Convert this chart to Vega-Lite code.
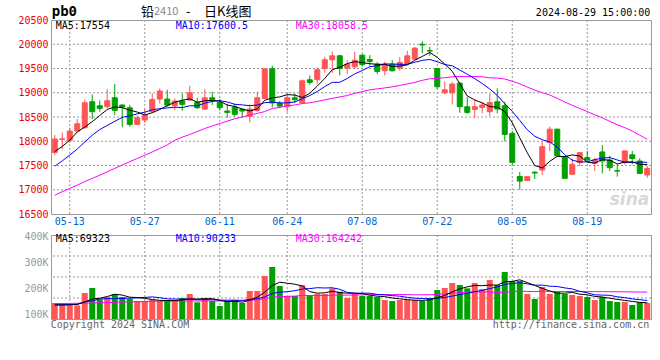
{
  "$schema": "https://vega.github.io/schema/vega-lite/v6.json",
  "padding": {"left": 17, "top": 4, "right": 5, "bottom": 5},
  "background": "#ffffff",
  "spacing": 21,
  "bounds": "flush",
  "config": {"view": {"stroke": "#999999", "strokeWidth": 1}, "font": "DejaVu Sans Mono", "text": {"font": "DejaVu Sans Mono", "fontSize": 10}},
  "resolve": {"scale": {"x": "independent", "y": "independent"}},
  "datasets": {
    "k": [
      {"d":"05-09","o":17770,"h":18133,"l":17717,"c":18046,"m5":17788,"m10":17486,"m30":16887,"v":143580,"vm5":135820,"vm10":135820,"vm30":140990},
      {"d":"05-10","o":18040,"h":18180,"l":17840,"c":18050,"m5":17894,"m10":17595,"m30":16960,"v":143580,"vm5":135820,"vm10":137110,"vm30":141510},
      {"d":"05-13","o":18017,"h":18280,"l":17964,"c":18211,"m5":18022,"m10":17714,"m30":17029,"v":134530,"vm5":135820,"vm10":137760,"vm30":142030},
      {"d":"05-14","o":18211,"h":18458,"l":18200,"c":18361,"m5":18192,"m10":17838,"m30":17095,"v":134530,"vm5":138410,"vm10":138410,"vm30":142540},
      {"d":"05-15","o":18279,"h":18856,"l":18260,"c":18794,"m5":18292,"m10":17985,"m30":17170,"v":182380,"vm5":147720,"vm10":147470,"vm30":143060},
      {"d":"05-16","o":18815,"h":18965,"l":18458,"c":18609,"m5":18405,"m10":18125,"m30":17235,"v":201780,"vm5":159360,"vm10":152640,"vm30":143580},
      {"d":"05-17","o":18732,"h":18842,"l":18609,"c":18677,"m5":18530,"m10":18241,"m30":17300,"v":157810,"vm5":162200,"vm10":159110,"vm30":144610},
      {"d":"05-20","o":18712,"h":19076,"l":18677,"c":18835,"m5":18655,"m10":18327,"m30":17370,"v":166860,"vm5":168670,"vm10":160400,"vm30":145390},
      {"d":"05-21","o":18897,"h":19185,"l":18540,"c":18636,"m5":18710,"m10":18411,"m30":17440,"v":178500,"vm5":177470,"vm10":160400,"vm30":146170},
      {"d":"05-22","o":18747,"h":18760,"l":18290,"c":18706,"m5":18693,"m10":18493,"m30":17510,"v":166860,"vm5":174360,"vm10":161050,"vm30":147070},
      {"d":"05-23","o":18691,"h":18750,"l":18300,"c":18347,"m5":18640,"m10":18523,"m30":17578,"v":160390,"vm5":166080,"vm10":162730,"vm30":147980},
      {"d":"05-24","o":18347,"h":18530,"l":18330,"c":18485,"m5":18602,"m10":18566,"m30":17645,"v":151340,"vm5":164790,"vm10":163510,"vm30":148750},
      {"d":"05-27","o":18438,"h":18664,"l":18380,"c":18541,"m5":18543,"m10":18599,"m30":17712,"v":151340,"vm5":161690,"vm10":165190,"vm30":149530},
      {"d":"05-28","o":18609,"h":18986,"l":18595,"c":18862,"m5":18588,"m10":18649,"m30":17780,"v":155220,"vm5":157030,"vm10":167260,"vm30":150310},
      {"d":"05-29","o":18870,"h":19090,"l":18780,"c":19035,"m5":18654,"m10":18673,"m30":17850,"v":151340,"vm5":153930,"vm10":164160,"vm30":150950},
      {"d":"05-30","o":18870,"h":19060,"l":18710,"c":18746,"m5":18734,"m10":18687,"m30":17925,"v":155220,"vm5":152890,"vm10":159500,"vm30":151340},
      {"d":"05-31","o":18732,"h":18883,"l":18643,"c":18829,"m5":18803,"m10":18702,"m30":18020,"v":151340,"vm5":152890,"vm10":158860,"vm30":151340},
      {"d":"06-03","o":18829,"h":18980,"l":18630,"c":18760,"m5":18846,"m10":18695,"m30":18085,"v":162980,"vm5":155220,"vm10":158470,"vm30":151340},
      {"d":"06-04","o":18849,"h":19144,"l":18830,"c":19000,"m5":18874,"m10":18731,"m30":18140,"v":178500,"vm5":159880,"vm10":158470,"vm30":151340},
      {"d":"06-05","o":18800,"h":18897,"l":18664,"c":18691,"m5":18805,"m10":18730,"m30":18200,"v":146170,"vm5":158840,"vm10":156400,"vm30":151340},
      {"d":"06-06","o":18664,"h":19076,"l":18650,"c":18897,"m5":18835,"m10":18785,"m30":18263,"v":162980,"vm5":160390,"vm10":156660,"vm30":151340},
      {"d":"06-07","o":18897,"h":19020,"l":18747,"c":18856,"m5":18841,"m10":18822,"m30":18314,"v":151340,"vm5":160390,"vm10":156660,"vm30":151340},
      {"d":"06-11","o":18800,"h":18870,"l":18636,"c":18691,"m5":18827,"m10":18837,"m30":18365,"v":131940,"vm5":154190,"vm10":154720,"vm30":151340},
      {"d":"06-12","o":18623,"h":18773,"l":18485,"c":18595,"m5":18746,"m10":18810,"m30":18415,"v":151340,"vm5":148750,"vm10":154330,"vm30":151340},
      {"d":"06-13","o":18706,"h":18773,"l":18506,"c":18554,"m5":18719,"m10":18762,"m30":18463,"v":155220,"vm5":150560,"vm10":154720,"vm30":151340},
      {"d":"06-14","o":18657,"h":18680,"l":18485,"c":18623,"m5":18664,"m10":18750,"m30":18501,"v":143580,"vm5":146680,"vm10":153560,"vm30":152630},
      {"d":"06-17","o":18513,"h":18760,"l":18390,"c":18664,"m5":18625,"m10":18733,"m30":18539,"v":190140,"vm5":154440,"vm10":157440,"vm30":153930},
      {"d":"06-18","o":18636,"h":19020,"l":18609,"c":18897,"m5":18667,"m10":18747,"m30":18575,"v":190140,"vm5":166080,"vm10":160150,"vm30":156510},
      {"d":"06-19","o":18883,"h":19500,"l":18870,"c":19494,"m5":18846,"m10":18796,"m30":18612,"v":248340,"vm5":185480,"vm10":167130,"vm30":160390},
      {"d":"06-20","o":19494,"h":19556,"l":18700,"c":18790,"m5":18894,"m10":18806,"m30":18676,"v":283260,"vm5":211090,"vm10":180840,"vm30":166080},
      {"d":"06-21","o":18786,"h":18830,"l":18680,"c":18725,"m5":18914,"m10":18789,"m30":18699,"v":209540,"vm5":224280,"vm10":185490,"vm30":168280},
      {"d":"06-24","o":18712,"h":18986,"l":18609,"c":18897,"m5":18961,"m10":18793,"m30":18727,"v":170740,"vm5":220400,"vm10":187430,"vm30":169190},
      {"d":"06-25","o":18897,"h":18986,"l":18786,"c":18856,"m5":18952,"m10":18810,"m30":18748,"v":170740,"vm5":216520,"vm10":191310,"vm30":170350},
      {"d":"06-26","o":18794,"h":19274,"l":18786,"c":19247,"m5":18903,"m10":18875,"m30":18778,"v":213420,"vm5":209540,"vm10":197520,"vm30":173070},
      {"d":"06-27","o":19268,"h":19357,"l":19165,"c":19213,"m5":18988,"m10":18941,"m30":18792,"v":174620,"vm5":187810,"vm10":199460,"vm30":172810},
      {"d":"06-28","o":19268,"h":19521,"l":19179,"c":19474,"m5":19137,"m10":19026,"m30":18821,"v":178500,"vm5":181600,"vm10":202950,"vm30":172030},
      {"d":"07-01","o":19501,"h":19742,"l":19412,"c":19680,"m5":19294,"m10":19127,"m30":18854,"v":178500,"vm5":183160,"vm10":201780,"vm30":172680},
      {"d":"07-02","o":19680,"h":19851,"l":19412,"c":19762,"m5":19475,"m10":19214,"m30":18885,"v":200490,"vm5":189110,"vm10":202820,"vm30":173850},
      {"d":"07-03","o":19762,"h":19783,"l":19357,"c":19501,"m5":19526,"m10":19215,"m30":18914,"v":187550,"vm5":183930,"vm10":196740,"vm30":174100},
      {"d":"07-04","o":19507,"h":19673,"l":19384,"c":19590,"m5":19601,"m10":19295,"m30":18943,"v":162980,"vm5":181600,"vm10":184710,"vm30":173980},
      {"d":"07-05","o":19535,"h":19851,"l":19500,"c":19673,"m5":19641,"m10":19389,"m30":18988,"v":178500,"vm5":181600,"vm10":181600,"vm30":174620},
      {"d":"07-08","o":19776,"h":19790,"l":19535,"c":19584,"m5":19622,"m10":19458,"m30":19024,"v":170740,"vm5":180050,"vm10":181600,"vm30":175270},
      {"d":"07-09","o":19687,"h":19776,"l":19556,"c":19646,"m5":19599,"m10":19537,"m30":19061,"v":170740,"vm5":174100,"vm10":181600,"vm30":175920},
      {"d":"07-10","o":19590,"h":19632,"l":19384,"c":19439,"m5":19586,"m10":19556,"m30":19080,"v":166860,"vm5":169960,"vm10":176950,"vm30":176300},
      {"d":"07-11","o":19453,"h":19640,"l":19357,"c":19590,"m5":19586,"m10":19594,"m30":19099,"v":155220,"vm5":168410,"vm10":175010,"vm30":176430},
      {"d":"07-12","o":19590,"h":19673,"l":19440,"c":19453,"m5":19542,"m10":19592,"m30":19122,"v":151340,"vm5":162980,"vm10":172290,"vm30":176300},
      {"d":"07-15","o":19508,"h":19735,"l":19453,"c":19625,"m5":19551,"m10":19586,"m30":19149,"v":155220,"vm5":159880,"vm10":169960,"vm30":176430},
      {"d":"07-16","o":19604,"h":19865,"l":19590,"c":19762,"m5":19574,"m10":19586,"m30":19182,"v":155220,"vm5":156770,"vm10":165440,"vm30":176170},
      {"d":"07-17","o":19694,"h":19948,"l":19673,"c":19920,"m5":19670,"m10":19628,"m30":19213,"v":155220,"vm5":154440,"vm10":162200,"vm30":175400},
      {"d":"07-18","o":20000,"h":20060,"l":19810,"c":19985,"m5":19749,"m10":19668,"m30":19256,"v":151340,"vm5":153670,"vm10":161050,"vm30":175530},
      {"d":"07-19","o":19870,"h":19948,"l":19762,"c":19860,"m5":19830,"m10":19686,"m30":19288,"v":162980,"vm5":156000,"vm10":159500,"vm30":175530},
      {"d":"07-22","o":19501,"h":19510,"l":19076,"c":19124,"m5":19730,"m10":19640,"m30":19297,"v":194020,"vm5":163760,"vm10":161820,"vm30":176950},
      {"d":"07-23","o":19000,"h":19240,"l":18965,"c":19062,"m5":19590,"m10":19582,"m30":19310,"v":201780,"vm5":173070,"vm10":164930,"vm30":179280},
      {"d":"07-24","o":19000,"h":19220,"l":18760,"c":19179,"m5":19442,"m10":19556,"m30":19329,"v":221180,"vm5":186260,"vm10":170350,"vm30":181600},
      {"d":"07-25","o":19199,"h":19220,"l":18588,"c":18712,"m5":19187,"m10":19468,"m30":19334,"v":213420,"vm5":198680,"vm10":176170,"vm30":183540},
      {"d":"07-26","o":18712,"h":18911,"l":18568,"c":18595,"m5":18934,"m10":19382,"m30":19333,"v":200490,"vm5":206180,"vm10":181100,"vm30":185480},
      {"d":"07-29","o":18657,"h":18856,"l":18472,"c":18712,"m5":18852,"m10":19291,"m30":19335,"v":221180,"vm5":211610,"vm10":187690,"vm30":186520},
      {"d":"07-30","o":18698,"h":18815,"l":18575,"c":18747,"m5":18789,"m10":19190,"m30":19330,"v":197900,"vm5":210830,"vm10":191960,"vm30":186780},
      {"d":"07-31","o":18609,"h":18979,"l":18520,"c":18800,"m5":18713,"m10":19078,"m30":19307,"v":232820,"vm5":213160,"vm10":199720,"vm30":186260},
      {"d":"08-01","o":18815,"h":19090,"l":18575,"c":18664,"m5":18704,"m10":18946,"m30":19303,"v":213420,"vm5":213160,"vm10":205930,"vm30":183930},
      {"d":"08-02","o":18732,"h":18815,"l":18000,"c":18141,"m5":18613,"m10":18774,"m30":19283,"v":263860,"vm5":225840,"vm10":216010,"vm30":185740},
      {"d":"08-05","o":18162,"h":18211,"l":17515,"c":17564,"m5":18383,"m10":18618,"m30":19239,"v":228940,"vm5":227390,"vm10":219510,"vm30":187690},
      {"d":"08-06","o":17275,"h":17370,"l":17000,"c":17178,"m5":18069,"m10":18429,"m30":19183,"v":228940,"vm5":233600,"vm10":222220,"vm30":189630},
      {"d":"08-07","o":17190,"h":17280,"l":17180,"c":17270,"m5":17763,"m10":18238,"m30":19117,"v":178500,"vm5":222730,"vm10":217950,"vm30":188460},
      {"d":"08-08","o":17360,"h":17385,"l":17222,"c":17345,"m5":17500,"m10":18102,"m30":19055,"v":159100,"vm5":211870,"vm10":212520,"vm30":187950},
      {"d":"08-09","o":17407,"h":18000,"l":17304,"c":17887,"m5":17449,"m10":18031,"m30":19002,"v":205660,"vm5":200230,"vm10":213040,"vm30":188860},
      {"d":"08-12","o":17973,"h":18300,"l":17800,"c":18249,"m5":17586,"m10":17985,"m30":18954,"v":178500,"vm5":190140,"vm10":208770,"vm30":188860},
      {"d":"08-13","o":18249,"h":18260,"l":17680,"c":17699,"m5":17690,"m10":17880,"m30":18885,"v":186260,"vm5":181600,"vm10":207610,"vm30":188350},
      {"d":"08-14","o":17684,"h":17700,"l":17222,"c":17237,"m5":17683,"m10":17723,"m30":18810,"v":178500,"vm5":181600,"vm10":202180,"vm30":188090},
      {"d":"08-15","o":17319,"h":17648,"l":17310,"c":17525,"m5":17719,"m10":17610,"m30":18741,"v":174620,"vm5":184710,"vm10":198300,"vm30":188460},
      {"d":"08-16","o":17559,"h":17779,"l":17490,"c":17765,"m5":17695,"m10":17572,"m30":18677,"v":170740,"vm5":177720,"vm10":188990,"vm30":188210},
      {"d":"08-19","o":17662,"h":17800,"l":17593,"c":17614,"m5":17568,"m10":17577,"m30":18612,"v":166860,"vm5":175400,"vm10":182780,"vm30":188090},
      {"d":"08-20","o":17545,"h":17662,"l":17387,"c":17614,"m5":17551,"m10":17621,"m30":18544,"v":155220,"vm5":169190,"vm10":175400,"vm30":187550},
      {"d":"08-21","o":17779,"h":17917,"l":17338,"c":17593,"m5":17622,"m10":17653,"m30":18482,"v":166860,"vm5":166860,"vm10":174230,"vm30":187550},
      {"d":"08-22","o":17614,"h":17700,"l":17387,"c":17455,"m5":17608,"m10":17664,"m30":18411,"v":151340,"vm5":162200,"vm10":173460,"vm30":187420},
      {"d":"08-23","o":17395,"h":17524,"l":17270,"c":17385,"m5":17532,"m10":17614,"m30":18342,"v":147460,"vm5":157550,"vm10":167640,"vm30":187300},
      {"d":"08-26","o":17559,"h":17810,"l":17524,"c":17800,"m5":17569,"m10":17569,"m30":18281,"v":147460,"vm5":153670,"vm10":164530,"vm30":187040},
      {"d":"08-27","o":17720,"h":17800,"l":17524,"c":17644,"m5":17575,"m10":17563,"m30":18211,"v":135820,"vm5":149790,"vm10":159500,"vm30":186390},
      {"d":"08-28","o":17592,"h":17650,"l":17330,"c":17337,"m5":17524,"m10":17573,"m30":18125,"v":147460,"vm5":145910,"vm10":156400,"vm30":186130},
      {"d":"08-29","o":17304,"h":17490,"l":17249,"c":17441,"m5":17521,"m10":17565,"m30":18040,"v":143580,"vm5":144360,"vm10":153290,"vm30":185870}
    ],
    "gridDates": [{"d":"05-13"},{"d":"05-27"},{"d":"06-11"},{"d":"06-24"},{"d":"07-08"},{"d":"07-22"},{"d":"08-05"},{"d":"08-19"}],
    "gridPrice": [{"g":17000},{"g":17500},{"g":18000},{"g":18500},{"g":19000},{"g":19500},{"g":20000}],
    "gridVol": [{"g":162980},{"g":244460},{"g":325940}]
  },
  "vconcat": [
    {
      "width": 600,
      "height": 194,
      "layer": [
        {
          "data": {"name": "gridPrice"},
          "mark": {"type": "rule", "color": "#999999", "strokeWidth": 1, "strokeDash": [2, 2], "opacity": 1},
          "encoding": {
            "y": {"field": "g", "type": "quantitative", "scale": {"domain": [16500, 20500], "nice": false, "zero": false},
              "axis": {"values": [16500,17000,17500,18000,18500,19000,19500,20000,20500], "tickCount": 20, "format": "d", "labelOverlap": false, "labelColor": "#ee0000", "labelFont": "DejaVu Sans Mono", "labelFontSize": 10, "labelPadding": 3, "ticks": false, "domain": false, "grid": false, "title": null}}
          }
        },
        {
          "data": {"name": "gridDates"},
          "mark": {"type": "rule", "color": "#999999", "strokeWidth": 1, "strokeDash": [2, 2], "opacity": 1},
          "encoding": {
            "x": {"field": "d", "type": "ordinal", "scale": {"paddingInner": 0, "paddingOuter": 0},
              "axis": {"values": ["05-13","05-27","06-11","06-24","07-08","07-22","08-05","08-19"], "labelAngle": 0, "labelColor": "#0066cc", "labelFont": "DejaVu Sans Mono", "labelFontSize": 10, "labelPadding": 2, "ticks": false, "domain": false, "grid": false, "title": null, "bandPosition": 0.5}}
          }
        },
        {
          "data": {"name": "k"},
          "mark": {"type": "rule", "strokeWidth": 1},
          "encoding": {
            "x": {"field": "d", "type": "ordinal", "scale": {"paddingInner": 0, "paddingOuter": 0}, "axis": {"title": null}},
            "y": {"field": "l", "type": "quantitative", "scale": {"domain": [16500, 20500], "nice": false, "zero": false}, "axis": {"title": null}},
            "y2": {"field": "h"},
            "color": {"condition": {"test": "datum.c >= datum.o", "value": "#ff5555"}, "value": "#00a000"}
          }
        },
        {
          "data": {"name": "k"},
          "mark": {"type": "bar", "size": 5, "strokeWidth": 1},
          "encoding": {
            "x": {"field": "d", "type": "ordinal", "scale": {"paddingInner": 0, "paddingOuter": 0}, "axis": {"title": null}},
            "y": {"field": "o", "type": "quantitative", "scale": {"domain": [16500, 20500], "nice": false, "zero": false}, "axis": {"title": null}},
            "y2": {"field": "c"},
            "color": {"condition": {"test": "datum.c >= datum.o", "value": "#ff5555"}, "value": "#00a000"},
            "stroke": {"condition": {"test": "datum.c >= datum.o", "value": "#ff5555"}, "value": "#00a000"}
          }
        },
        {
          "data": {"name": "k"},
          "mark": {"type": "line", "color": "#ff00ff", "strokeWidth": 1},
          "encoding": {
            "x": {"field": "d", "type": "ordinal", "scale": {"paddingInner": 0, "paddingOuter": 0}, "axis": {"title": null}},
            "y": {"field": "m30", "type": "quantitative", "scale": {"domain": [16500, 20500], "nice": false, "zero": false}, "axis": {"title": null}}
          }
        },
        {
          "data": {"name": "k"},
          "mark": {"type": "line", "color": "#0000ff", "strokeWidth": 1},
          "encoding": {
            "x": {"field": "d", "type": "ordinal", "scale": {"paddingInner": 0, "paddingOuter": 0}, "axis": {"title": null}},
            "y": {"field": "m10", "type": "quantitative", "scale": {"domain": [16500, 20500], "nice": false, "zero": false}, "axis": {"title": null}}
          }
        },
        {
          "data": {"name": "k"},
          "mark": {"type": "line", "color": "#000000", "strokeWidth": 1},
          "encoding": {
            "x": {"field": "d", "type": "ordinal", "scale": {"paddingInner": 0, "paddingOuter": 0}, "axis": {"title": null}},
            "y": {"field": "m5", "type": "quantitative", "scale": {"domain": [16500, 20500], "nice": false, "zero": false}, "axis": {"title": null}}
          }
        },
        {
          "data": {"values": [{}]},
          "mark": {"type": "text", "align": "left", "baseline": "middle", "dx": -3, "font": "DejaVu Sans Mono", "fontSize": 14, "fontWeight": "bold", "color": "#000000"},
          "encoding": {"x": {"datum": "05-09"}, "y": {"datum": 20665}, "text": {"value": "pb0"}}
        },
        {
          "data": {"values": [{}]},
          "mark": {"type": "text", "align": "left", "baseline": "middle", "dx": -3.75, "font": "Noto Sans CJK SC", "fontSize": 13, "color": "#000000"},
          "encoding": {"x": {"datum": "05-27"}, "y": {"datum": 20665}, "text": {"value": "铅"}}
        },
        {
          "data": {"values": [{}]},
          "mark": {"type": "text", "align": "left", "baseline": "middle", "dx": 1.75, "font": "Noto Sans CJK SC", "fontSize": 11, "color": "#888888"},
          "encoding": {"x": {"datum": "05-28"}, "y": {"datum": 20665}, "text": {"value": "2410"}}
        },
        {
          "data": {"values": [{}]},
          "mark": {"type": "text", "align": "left", "baseline": "middle", "dx": -3.75, "font": "Noto Sans CJK SC", "fontSize": 13, "color": "#000000"},
          "encoding": {"x": {"datum": "06-04"}, "y": {"datum": 20665}, "text": {"value": "-"}}
        },
        {
          "data": {"values": [{}]},
          "mark": {"type": "text", "align": "left", "baseline": "middle", "dx": -0.75, "font": "Noto Sans CJK SC", "fontSize": 13, "color": "#000000"},
          "encoding": {"x": {"datum": "06-06"}, "y": {"datum": 20665}, "text": {"value": "日K线图"}}
        },
        {
          "data": {"values": [{}]},
          "mark": {"type": "text", "align": "right", "baseline": "middle", "dx": 3, "font": "DejaVu Sans Mono", "fontSize": 10, "color": "#000000"},
          "encoding": {"x": {"datum": "08-29"}, "y": {"datum": 20645}, "text": {"value": "2024-08-29 15:00:00"}}
        },
        {
          "data": {"values": [{}]},
          "mark": {"type": "text", "align": "left", "baseline": "middle", "dx": 1, "color": "#000000"},
          "encoding": {"x": {"datum": "05-09"}, "y": {"datum": 20376}, "text": {"value": "MA5:17554"}}
        },
        {
          "data": {"values": [{}]},
          "mark": {"type": "text", "align": "left", "baseline": "middle", "dx": 1, "color": "#0000ff"},
          "encoding": {"x": {"datum": "05-31"}, "y": {"datum": 20376}, "text": {"value": "MA10:17600.5"}}
        },
        {
          "data": {"values": [{}]},
          "mark": {"type": "text", "align": "left", "baseline": "middle", "dx": 1, "color": "#ff00ff"},
          "encoding": {"x": {"datum": "06-25"}, "y": {"datum": 20376}, "text": {"value": "MA30:18058.5"}}
        },
        {
          "data": {"values": [{}]},
          "mark": {"type": "text", "align": "right", "baseline": "middle", "dx": 2, "font": "DejaVu Sans", "fontSize": 17, "fontStyle": "italic", "fontWeight": "bold", "color": "#d8d8d8"},
          "encoding": {"x": {"datum": "08-29"}, "y": {"datum": 16790}, "text": {"value": "sina"}}
        }
      ]
    },
    {
      "width": 600,
      "height": 84,
      "layer": [
        {
          "data": {"name": "gridVol"},
          "mark": {"type": "rule", "color": "#999999", "strokeWidth": 1, "strokeDash": [2, 2], "opacity": 1},
          "encoding": {
            "y": {"field": "g", "type": "quantitative", "scale": {"domain": [81500, 407400], "nice": false, "zero": false},
              "axis": {"values": [100000, 200000, 300000, 400000], "tickCount": 20, "labelExpr": "datum.value / 1000 + 'K'", "labelOverlap": false, "labelColor": "#999999", "labelFont": "DejaVu Sans Mono", "labelFontSize": 10, "labelPadding": 3, "ticks": false, "domain": false, "grid": false, "title": null}}
          }
        },
        {
          "data": {"name": "gridDates"},
          "mark": {"type": "rule", "color": "#999999", "strokeWidth": 1, "strokeDash": [2, 2], "opacity": 1},
          "encoding": {
            "x": {"field": "d", "type": "ordinal", "scale": {"paddingInner": 0, "paddingOuter": 0},
              "axis": {"labels": false, "ticks": false, "domain": false, "grid": false, "title": null}}
          }
        },
        {
          "data": {"name": "k"},
          "mark": {"type": "bar", "size": 6},
          "encoding": {
            "x": {"field": "d", "type": "ordinal", "scale": {"paddingInner": 0, "paddingOuter": 0}, "axis": {"title": null}},
            "y": {"field": "v", "type": "quantitative", "scale": {"domain": [81500, 407400], "nice": false, "zero": false}, "axis": {"title": null}},
            "y2": {"datum": 81500},
            "color": {"condition": {"test": "datum.c >= datum.o", "value": "#ff5555"}, "value": "#00a000"}
          }
        },
        {
          "data": {"name": "k"},
          "mark": {"type": "line", "color": "#ff00ff", "strokeWidth": 1},
          "encoding": {
            "x": {"field": "d", "type": "ordinal", "scale": {"paddingInner": 0, "paddingOuter": 0}, "axis": {"title": null}},
            "y": {"field": "vm30", "type": "quantitative", "scale": {"domain": [81500, 407400], "nice": false, "zero": false}, "axis": {"title": null}}
          }
        },
        {
          "data": {"name": "k"},
          "mark": {"type": "line", "color": "#0000ff", "strokeWidth": 1},
          "encoding": {
            "x": {"field": "d", "type": "ordinal", "scale": {"paddingInner": 0, "paddingOuter": 0}, "axis": {"title": null}},
            "y": {"field": "vm10", "type": "quantitative", "scale": {"domain": [81500, 407400], "nice": false, "zero": false}, "axis": {"title": null}}
          }
        },
        {
          "data": {"name": "k"},
          "mark": {"type": "line", "color": "#000000", "strokeWidth": 1},
          "encoding": {
            "x": {"field": "d", "type": "ordinal", "scale": {"paddingInner": 0, "paddingOuter": 0}, "axis": {"title": null}},
            "y": {"field": "vm5", "type": "quantitative", "scale": {"domain": [81500, 407400], "nice": false, "zero": false}, "axis": {"title": null}}
          }
        },
        {
          "data": {"values": [{}]},
          "mark": {"type": "text", "align": "left", "baseline": "middle", "dx": 1, "color": "#000000"},
          "encoding": {"x": {"datum": "05-09"}, "y": {"datum": 391900}, "text": {"value": "MA5:69323"}}
        },
        {
          "data": {"values": [{}]},
          "mark": {"type": "text", "align": "left", "baseline": "middle", "dx": 1, "color": "#0000ff"},
          "encoding": {"x": {"datum": "05-31"}, "y": {"datum": 391900}, "text": {"value": "MA10:90233"}}
        },
        {
          "data": {"values": [{}]},
          "mark": {"type": "text", "align": "left", "baseline": "middle", "dx": 1, "color": "#ff00ff"},
          "encoding": {"x": {"datum": "06-25"}, "y": {"datum": 391900}, "text": {"value": "MA30:164242"}}
        },
        {
          "data": {"values": [{}]},
          "mark": {"type": "text", "align": "left", "baseline": "middle", "dx": -4, "color": "#666666"},
          "encoding": {"x": {"datum": "05-09"}, "y": {"datum": 58220}, "text": {"value": "Copyright 2024 SINA.COM"}}
        },
        {
          "data": {"values": [{}]},
          "mark": {"type": "text", "align": "right", "baseline": "middle", "dx": 2, "color": "#666666"},
          "encoding": {"x": {"datum": "08-29"}, "y": {"datum": 58220}, "text": {"value": "http://finance.sina.com.cn"}}
        }
      ]
    }
  ]
}
